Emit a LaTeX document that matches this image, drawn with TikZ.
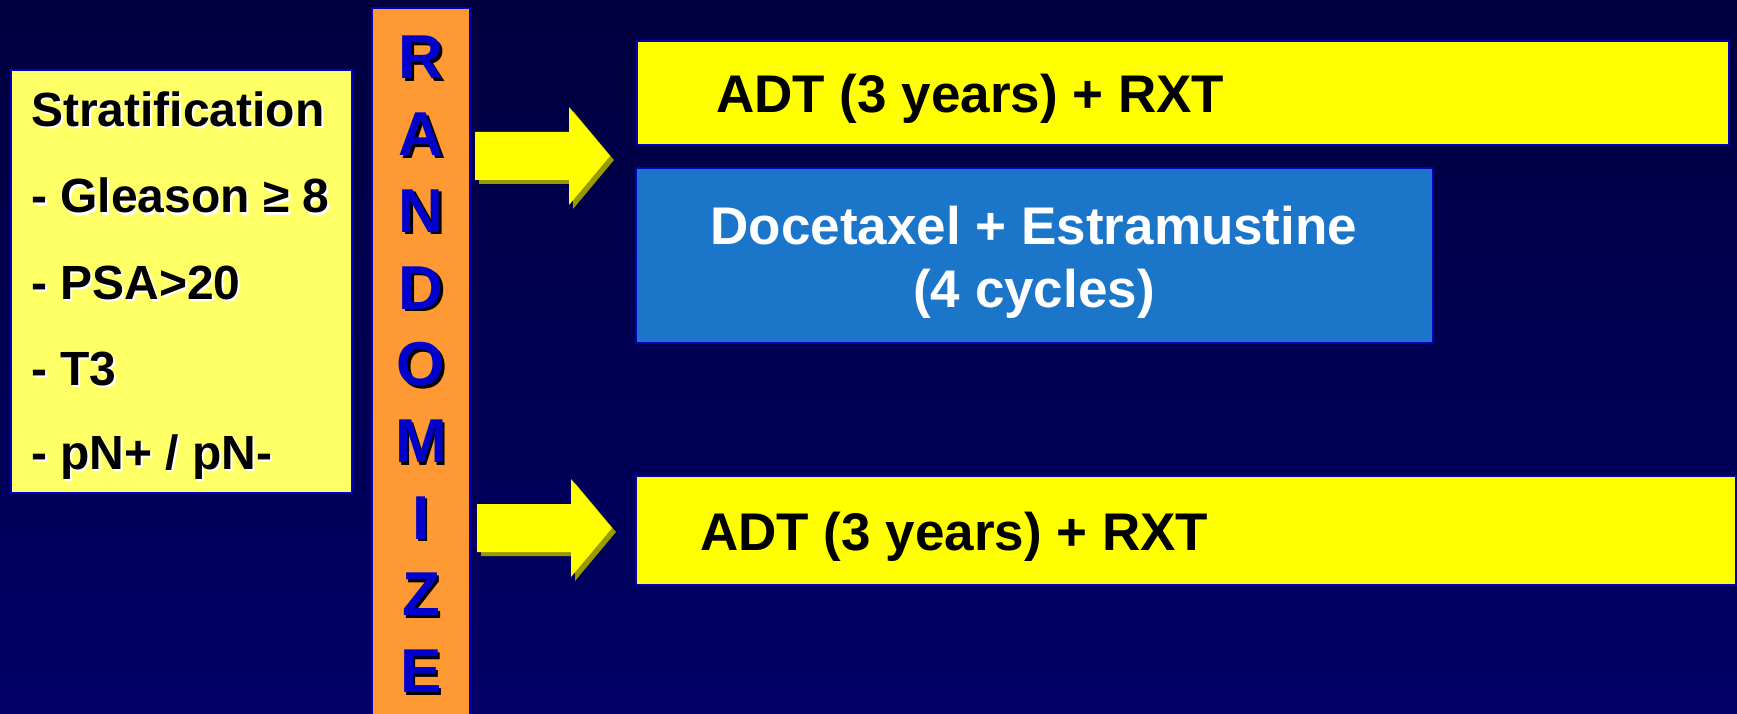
\documentclass[tikz,border=0pt]{standalone}
\usepackage{fontspec}
\setmainfont{Liberation Sans}
\definecolor{bgtop}{RGB}{0,0,64}
\definecolor{bgbot}{RGB}{0,0,102}
\definecolor{lightyel}{RGB}{255,255,102}
\definecolor{pureyel}{RGB}{255,255,0}
\definecolor{orangebar}{RGB}{255,153,51}
\definecolor{boxblue}{RGB}{27,117,200}
\definecolor{edgeblue}{RGB}{0,0,190}
\definecolor{arrowshadow}{RGB}{153,153,0}
\definecolor{letterblue}{RGB}{0,0,204}
\newcommand\strattext[3]{%
  \node[stext, text=white] (sh#1) at (33,#2+2) {#3};
  \node[stext, text=black] (s#1) at (31,#2) {#3};}
\begin{document}
\begin{tikzpicture}[x=1pt,y=-1pt,
  box/.style={draw=edgeblue, line width=2pt, inner sep=0pt, outer sep=0pt},
  stext/.style={font=\fontsize{48}{52}\selectfont\bfseries, anchor=base west, inner sep=0pt},
  armtext/.style={font=\fontsize{53}{58}\selectfont\bfseries, inner sep=0pt},
  letterstyle/.style={font=\fontsize{62}{64}\selectfont\bfseries, anchor=base, inner sep=0pt},
  blockarrow/.pic={
    \fill[arrowshadow] (4,-20) -- (98,-20) -- (98,-45) -- (139,4) -- (98,53) -- (98,28) -- (4,28) -- cycle;
    \fill[pureyel] (0,-24) -- (94,-24) -- (94,-49) -- (135,0) -- (94,49) -- (94,24) -- (0,24) -- cycle;
  }]
\useasboundingbox (0,0) rectangle (1737,714);
\shade[top color=bgtop, bottom color=bgbot] (0,0) rectangle (1737,714);

% stratification box
\node[box, fill=lightyel, minimum width=341pt, minimum height=423pt] (strat) at (181.5,281.5) {};
\strattext{1}{127}{Stratification}
\strattext{2}{213}{- Gleason ≥ 8}
\strattext{3}{299}{- PSA>20}
\strattext{4}{385}{- T3}
\strattext{5}{469}{- pN+ / pN-}

% randomize bar
\node[box, fill=orangebar, minimum width=98pt, minimum height=720pt, anchor=north] (bar) at (421,8) {};
\foreach \l [count=\i from 0] in {R,A,N,D,O,M,I,Z,E}{
  \node[letterstyle, text=black] (lsh\i) at (423.5,79+76.7*\i+2.5) {\l};
  \node[letterstyle, text=letterblue] (l\i) at (421,79+76.7*\i) {\l};
}

% arrows
\pic at (475,156) {blockarrow};
\pic at (477,528) {blockarrow};

% arms
\node[box, fill=pureyel, minimum width=1092pt, minimum height=104pt] (arm1) at (1183,93) {};
\node[armtext, anchor=base west] (arm1t) at (716,113) {ADT (3 years) + RXT};

\node[box, fill=boxblue, minimum width=797pt, minimum height=175pt] (chemo) at (1034.5,255.5) {};
\node[armtext, anchor=base, text=white] (chemo1) at (1034,244) {Docetaxel + Estramustine};
\node[armtext, anchor=base, text=white] (chemo2) at (1034,307) {(4 cycles)};

\node[box, fill=pureyel, minimum width=1100pt, minimum height=109pt] (arm2) at (1186,530.5) {};
\node[armtext, anchor=base west] (arm2t) at (700,550) {ADT (3 years) + RXT};
\end{tikzpicture}
\end{document}
